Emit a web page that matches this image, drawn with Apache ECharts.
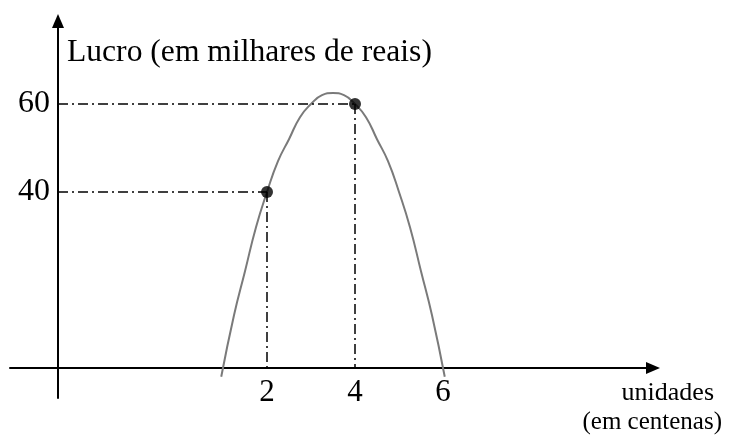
<!DOCTYPE html>
<html>
<head>
<meta charset="utf-8">
<script src="https://cdn.jsdelivr.net/npm/echarts@6/dist/echarts.min.js"></script>
<style>
  html, body { margin: 0; padding: 0; background: #fff; }
  #chart { width: 732px; height: 444px; }
</style>
</head>
<body>
<div id="chart"></div>
<script>
// ---- data ----
const unitsX = [0.96, 1.25, 1.5, 1.75, 2, 2.25, 2.5, 2.75, 3, 3.25, 3.5, 3.75, 4, 4.25, 4.5, 4.75, 5, 5.25, 5.5, 5.75, 6.04];
const profitY = [-2, 12, 22, 32, 40, 47, 52, 57, 60, 62, 62.5, 62, 60, 57, 52, 47, 40, 32, 22, 12, -2];
const markedX = [2, 4];
const markedY = [40, 60];
const xTickLabels = [2, 4, 6];
const yTickLabels = [40, 60];
const yAxisTitle = 'Lucro (em milhares de reais)';
const xAxisTitle1 = 'unidades';
const xAxisTitle2 = '(em centenas)';

// ---- axis extents (schematic picture) ----
const xMin = -3.841, xMax = 10.773;
const yMin = -6.818, yMax = 78.86;
const yAxisAt = -2.75; // x value where the vertical axis crosses

const FONT = "'Liberation Serif', 'Times New Roman', serif";

const curve = unitsX.map((x, i) => [x, profitY[i]]);
const dots = markedX.map((x, i) => [x, markedY[i]]);
const guides = [];
markedX.forEach((x, i) => {
  guides.push([{ coord: [yAxisAt, markedY[i]] }, { coord: [x, markedY[i]] }]);
  guides.push([{ coord: [x, markedY[i]] }, { coord: [x, 0] }]);
});

const chart = echarts.init(document.getElementById('chart'), null, { renderer: 'canvas' });
chart.setOption({
  animation: false,
  backgroundColor: '#ffffff',
  title: [
    { text: yAxisTitle, left: 67, top: 37, padding: 0, textStyle: { fontFamily: FONT, fontSize: 31.6, fontWeight: 'normal', color: '#000' } },
    { text: xAxisTitle1, right: 18, top: 380, padding: 0, textStyle: { fontFamily: FONT, fontSize: 26, fontWeight: 'normal', color: '#000' } },
    { text: xAxisTitle2, right: 10, top: 410, padding: 0, textStyle: { fontFamily: FONT, fontSize: 25, fontWeight: 'normal', color: '#000' } }
  ],
  grid: { left: 10, right: 79, top: 21, bottom: 46, containLabel: false, outerBoundsMode: 'none' },
  xAxis: [
    {
      type: 'value', min: xMin, max: xMax,
      axisLine: { onZero: true, symbol: ['none', 'triangle'], symbolSize: [12, 14], lineStyle: { color: '#000', width: 2 } },
      axisTick: { show: false },
      splitLine: { show: false },
      axisLabel: { customValues: xTickLabels, margin: -21, fontFamily: FONT, fontSize: 31, color: '#000' }
    },
    {
      type: 'value', min: xMin - yAxisAt, max: xMax - yAxisAt, show: false,
      splitLine: { show: false }
    }
  ],
  yAxis: {
    type: 'value', min: yMin, max: yMax,
    axisLine: { onZero: true, onZeroAxisIndex: 1, symbol: ['none', 'triangle'], symbolSize: [12, 14], lineStyle: { color: '#000', width: 2 } },
    axisTick: { show: false },
    splitLine: { show: false },
    axisLabel: { customValues: yTickLabels, margin: -40, fontFamily: FONT, fontSize: 32, color: '#000' }
  },
  series: [
    {
      type: 'line', data: curve, smooth: true, showSymbol: false,
      lineStyle: { color: '#7a7a7a', width: 2 },
      markLine: {
        silent: true, symbol: ['none', 'none'], label: { show: false },
        lineStyle: { color: '#000', width: 1.5, type: [10, 4, 2, 4] },
        data: guides
      },
      z: 2
    },
    {
      type: 'scatter', data: dots, symbolSize: 12,
      itemStyle: { color: '#000' }, z: 5
    }
  ]
});
</script>
</body>
</html>
